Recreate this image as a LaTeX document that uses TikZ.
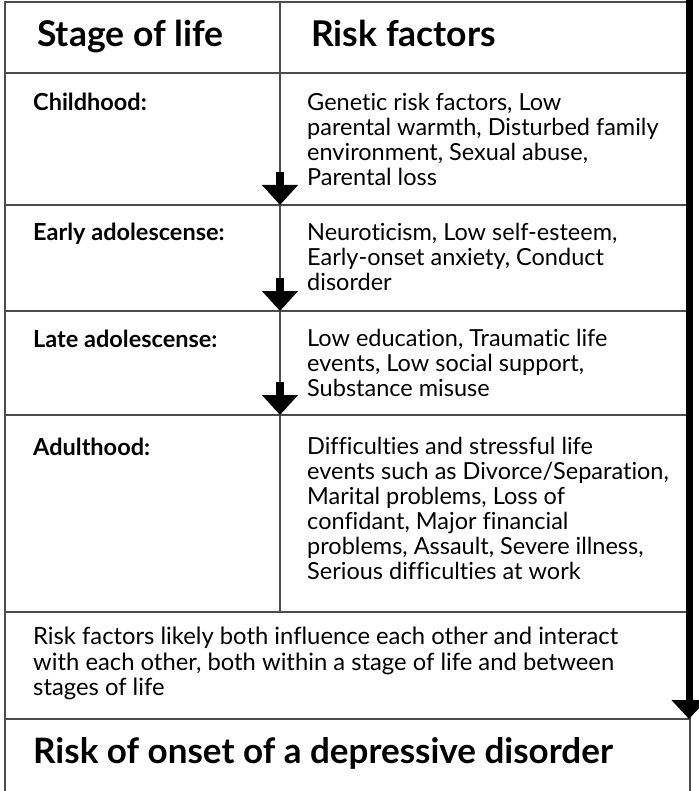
\documentclass[tikz,border=0pt]{standalone}
\usepackage{fontspec}
\setmainfont{Lato}[Ligatures={NoCommon}]
\usetikzlibrary{arrows.meta}
\begin{document}
\begin{tikzpicture}[x=1pt,y=-1pt,
  frame/.style={draw=black!70, line width=1.2pt},
  body/.style={anchor=north west, inner sep=0pt, align=left,
    font=\fontsize{23.5}{25}\selectfont},
  stage/.style={anchor=base west, inner sep=0pt,
    font=\bfseries\fontsize{23.5}{25}\selectfont},
  head/.style={anchor=base west, inner sep=0pt,
    font=\bfseries\fontsize{35.5}{40}\selectfont},
  stepflow/.style={-{Triangle[width=35pt,length=20pt]}, line width=8pt},
  mainflow/.style={-{Triangle[width=34pt,length=19pt]}, line width=7pt},
]
\useasboundingbox (0,0) rectangle (698,791);

% table frame and rules
\coordinate (tl) at (5,2);
\coordinate (tr) at (690,2);
\coordinate (bl) at (5,791);
\coordinate (br) at (690,791);
\draw[frame] (bl) -- (tl) -- (tr) -- (br);
\foreach \y in {73,205,311,415,612,719}
  \draw[frame] (5,\y) -- (690,\y);
\draw[frame] (280,2) -- (280,612);

% header
\node[head] (hstage) at (37,47) {Stage of life};
\node[head] (hrisk) at (311,47) {Risk factors};

% stages
\node[stage] (s1) at (33,111) {Childhood:};
\node[stage] (s2) at (33,241) {Early adolescense:};
\node[stage] (s3) at (33,347) {Late adolescense:};
\node[stage] (s4) at (33,455) {Adulthood:};

% risk factors
\node[body] (r1) at (307,93) {Genetic risk factors, Low\\parental warmth, Disturbed family\\environment, Sexual abuse,\\Parental loss};
\node[body] (r2) at (307,223) {Neuroticism, Low self-esteem,\\Early-onset anxiety, Conduct\\disorder};
\node[body] (r3) at (307,329) {Low education, Traumatic life\\events, Low social support,\\Substance misuse};
\node[body] (r4) at (307,437) {Difficulties and stressful life\\events such as Divorce/Separation,\\Marital problems, Loss of\\confidant, Major financial\\problems, Assault, Severe illness,\\Serious difficulties at work};

% note and outcome
\node[body, font=\fontsize{23.8}{25.5}\selectfont] (note) at (33,627) {Risk factors likely both influence each other and interact\\with each other, both within a stage of life and between\\stages of life};
\node[head, font=\bfseries\fontsize{35}{40}\selectfont] (outcome) at (33,763) {Risk of onset of a depressive disorder};

% arrows between stages
\coordinate (a1s) at (280,172); \coordinate (a1e) at (280,205);
\coordinate (a2s) at (280,278); \coordinate (a2e) at (280,311);
\coordinate (a3s) at (280,382); \coordinate (a3e) at (280,415);
\draw[stepflow] (a1s) -- (a1e);
\draw[stepflow] (a2s) -- (a2e);
\draw[stepflow] (a3s) -- (a3e);

% overall time arrow on the right edge
\coordinate (ms) at (689,0);
\coordinate (me) at (689,719);
\draw[mainflow] (ms) -- (me);
\end{tikzpicture}
\end{document}
